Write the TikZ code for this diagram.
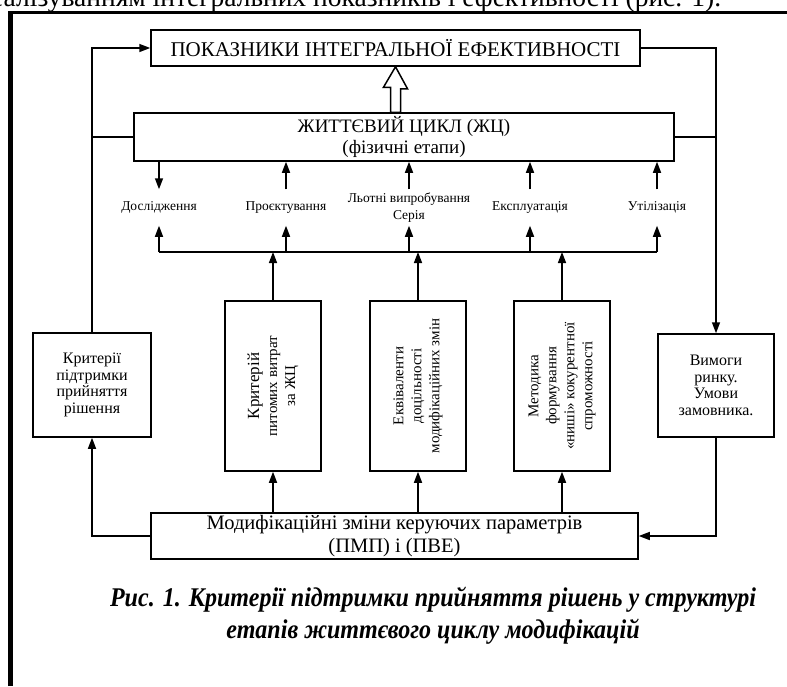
\documentclass[tikz,border=0pt]{standalone}
\usepackage{fontspec}
\setmainfont{Liberation Serif}
\newfontfamily\vuzkyj[FakeStretch=0.89]{Liberation Serif}
\usetikzlibrary{arrows.meta,calc}

\tikzset{
  blok/.style={draw, inner sep=0pt, align=center},
  vysoka/.style={blok, minimum width=96pt, minimum height=170pt},
  povern/.style={rotate=90, align=center, inner sep=0pt, font=\fontsize{15}{18}\selectfont},
  etap/.style={minimum height=35pt, inner sep=0pt, align=center, font=\fontsize{13.5}{17}\selectfont},
  arr/.style={-{Triangle[length=11pt,width=8pt]}}
}

\begin{document}
\begin{tikzpicture}[x=1pt, y=-1pt, line width=1.5pt, font=\fontsize{16}{16.5}\selectfont]
  \useasboundingbox (0,0) rectangle (787,686);
  \begin{scope}
    \clip (0,0) rectangle (787,686);
    \node[anchor=base east, inner sep=0pt, font=\fontsize{27.5}{30}\selectfont] (vstup) at (722,6) {реалізуванням інтегральних показників і ефективності (рис. 1).};
  \end{scope}
  \draw[line width=5pt] (10.5,686) -- (10.5,12.5);
  \draw[line width=3pt] (8,12.5) -- (787,12.5);

  \node[blok, minimum width=489pt, minimum height=36pt, font=\fontsize{21}{22}\selectfont] (pokaz) at (395.5,48) {ПОКАЗНИКИ ІНТЕГРАЛЬНОЇ ЕФЕКТИВНОСТІ};
  \node[blok, minimum width=540pt, minimum height=48pt, font=\fontsize{19}{20.5}\selectfont] (zhc) at (404,137) {ЖИТТЄВИЙ ЦИКЛ (ЖЦ)\\(фізичні етапи)};
  \draw[fill=white] (pokaz.south) -- ++(12,22) -- ++(-7,0) -- ($(zhc.north -| pokaz.south)+(5,0)$) -- ++(-10,0) -- ++(0,-25) -- ++(-7,0) -- cycle;

  \node[etap] (dosl) at (159,207.5) {Дослідження};
  \node[etap] (proekt) at (286,207.5) {Проєктування};
  \node[etap] (lotni) at (409,207.5) {Льотні випробування\\Серія};
  \node[etap] (ekspl) at (530,207.5) {Експлуатація};
  \node[etap] (util) at (657,207.5) {Утілізація};
  \coordinate (shyna) at (0,252);

  \node[blok, minimum width=118pt, minimum height=104pt] (krit) at (92,385) {Критерії\\підтримки\\прийняття\\рішення};
  \node[vysoka] (vytr) at (273,386) {};
  \node[povern] (vytr-t) at (vytr) {{\fontsize{17}{18}\selectfont Критерій}\\питомих витрат\\за ЖЦ};
  \node[vysoka] (ekviv) at (418,386) {};
  \node[povern] (ekviv-t) at (ekviv) {Еквіваленти\\доцільності\\модифікаційних змін};
  \node[vysoka] (metod) at (562,386) {};
  \node[povern] (metod-t) at (metod) {Методика\\формування\\«ниші» кокурентної\\спроможності};
  \node[blok, minimum width=116pt, minimum height=103pt] (vymogy) at (716,385.5) {Вимоги\\ринку.\\Умови\\замовника.};
  \node[blok, minimum width=487pt, minimum height=46pt, font=\fontsize{20.5}{23}\selectfont] (modyf) at (394.5,536) {Модифікаційні зміни керуючих параметрів\\(ПМП) і (ПВЕ)};

  \node[align=center, font=\vuzkyj\fontsize{27}{32}\selectfont\bfseries\itshape] (pidpys) at (433,616) {Рис. 1. Критерії підтримки прийняття рішень у структурі\\етапів життєвого циклу модифікацій};

  \draw[arr] (krit.north) |- (pokaz.west);
  \draw (zhc.west) -- (zhc.west -| krit.north);
  \draw[arr] (pokaz.east) -| (vymogy.north);
  \draw (zhc.east) -- (zhc.east -| vymogy.north);
  \draw[arr] (zhc.south -| dosl.north) -- (dosl.north);
  \foreach \e in {proekt,lotni,ekspl,util}
    \draw[arr] (\e.north) -- (zhc.south -| \e.north);
  \foreach \e in {dosl,proekt,lotni,ekspl,util}
    \draw[arr] (\e.south |- shyna) -- (\e.south);
  \draw (dosl.south |- shyna) -- (util.south |- shyna);
  \foreach \b in {vytr,ekviv,metod} {
    \draw[arr] (\b.north) -- (\b.north |- shyna);
    \draw[arr] (modyf.north -| \b.south) -- (\b.south);
  }
  \draw[arr] (modyf.west) -| (krit.south);
  \draw[arr] (vymogy.south) |- (modyf.east);
\end{tikzpicture}
\end{document}
